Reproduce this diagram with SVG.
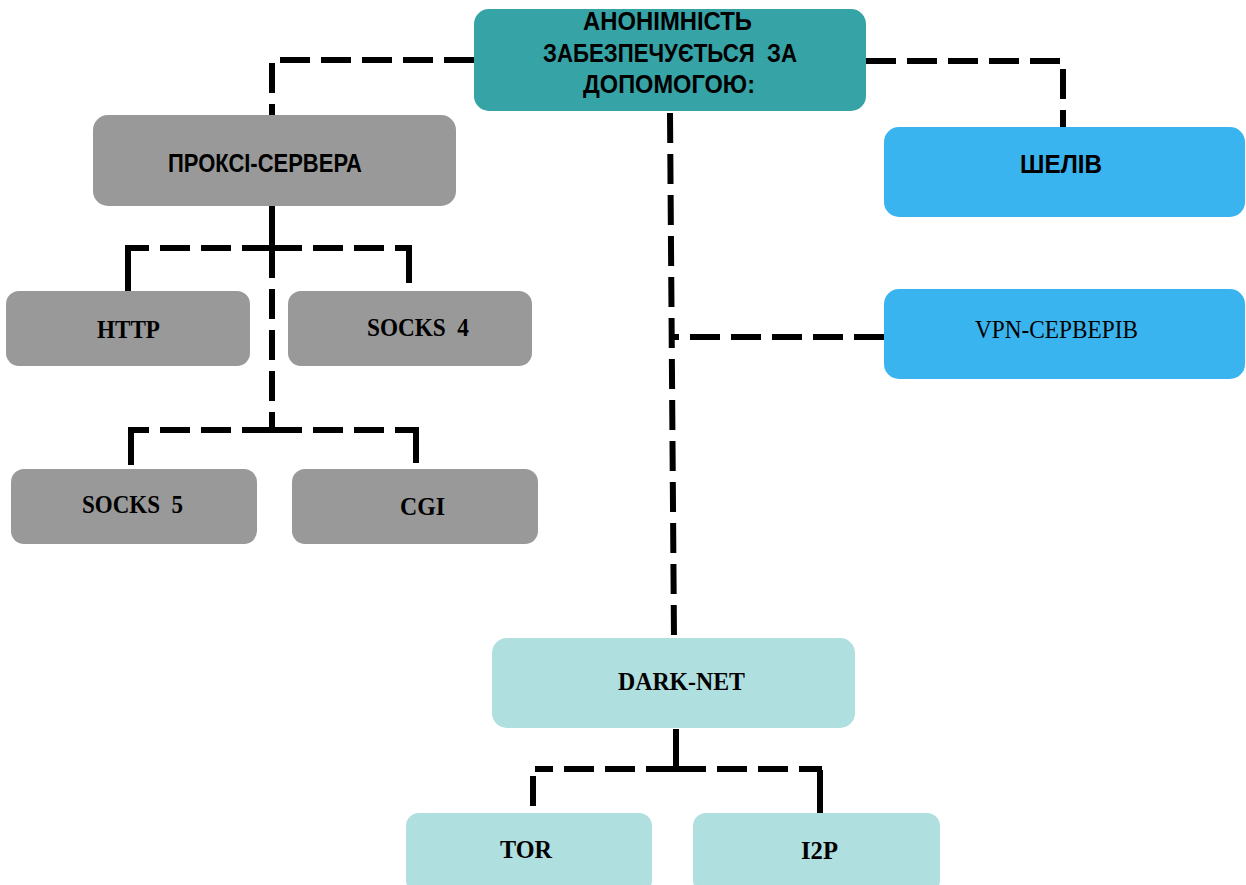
<svg xmlns="http://www.w3.org/2000/svg" width="1246" height="885" viewBox="0 0 1246 885">
<style>
.box{stroke:none}
.teal{fill:#36a3a7}
.gray{fill:#999999}
.blue{fill:#3ab4ef}
.light{fill:#b0dfdf}
.sans{font-family:"Liberation Sans",Arial,sans-serif;font-weight:bold;fill:#000;font-size:25px}
.serif{font-family:"Liberation Serif","Times New Roman",serif;font-weight:bold;fill:#000;font-size:26px}
.serifr{font-family:"Liberation Serif","Times New Roman",serif;fill:#000;font-size:26px}
.conn{fill:none;stroke:#000;stroke-width:6;stroke-dasharray:30 11}
.solid{fill:none;stroke:#000;stroke-width:6}
</style>
<rect width="1246" height="885" fill="#fff"/>
<g id="connectors">
<path class="conn" d="M474,60 H272 V115"/>
<path class="conn" d="M866,61 H1063 V127"/>
<path class="conn" d="M670,113 L674,638"/>
<path class="conn" d="M884,337 H674"/>
<path class="solid" d="M272,205 V248"/>
<path class="conn" d="M272,248 V430"/>
<path class="conn" d="M272,248 H125"/>
<path class="solid" d="M128,251 V291"/>
<path class="conn" d="M272,248 H409"/>
<path class="solid" d="M409,245 V283"/>
<path class="conn" d="M272,430 H131"/>
<path class="solid" d="M131,427 V465"/>
<path class="conn" d="M272,430 H416"/>
<path class="solid" d="M416,427 V463"/>
<path class="solid" d="M676,729 V769"/>
<path class="conn" d="M676,769 H535"/>
<path class="solid" d="M533,776 V806"/>
<path class="conn" d="M676,769 H822"/>
<path class="solid" d="M820,770 V813"/>
</g>
<g id="root">
<rect class="box teal" x="474" y="9" width="392" height="102" rx="15"/>
<text class="sans" x="583" y="30" textLength="169" lengthAdjust="spacingAndGlyphs">АНОНІМНІСТЬ</text>
<text class="sans" x="543" y="62" textLength="254" lengthAdjust="spacingAndGlyphs" xml:space="preserve">ЗАБЕЗПЕЧУЄТЬСЯ  ЗА</text>
<text class="sans" x="583" y="93" textLength="172" lengthAdjust="spacingAndGlyphs">ДОПОМОГОЮ:</text>
</g>
<g id="proxy">
<rect class="box gray" x="93" y="115" width="363" height="91" rx="15"/>
<text class="sans" x="168" y="172" textLength="194" lengthAdjust="spacingAndGlyphs">ПРОКСІ-СЕРВЕРА</text>
</g>
<g id="http">
<rect class="box gray" x="6" y="291" width="244" height="75" rx="13"/>
<text class="serif" x="97" y="338" textLength="63" lengthAdjust="spacingAndGlyphs">HTTP</text>
</g>
<g id="socks4">
<rect class="box gray" x="288" y="291" width="244" height="75" rx="13"/>
<text class="serif" x="367" y="336" textLength="102" lengthAdjust="spacingAndGlyphs" xml:space="preserve">SOCKS  4</text>
</g>
<g id="socks5">
<rect class="box gray" x="11" y="469" width="246" height="75" rx="13"/>
<text class="serif" x="82" y="513" textLength="101" lengthAdjust="spacingAndGlyphs" xml:space="preserve">SOCKS  5</text>
</g>
<g id="cgi">
<rect class="box gray" x="292" y="469" width="246" height="75" rx="13"/>
<text class="serif" x="400" y="515" textLength="45" lengthAdjust="spacingAndGlyphs">CGI</text>
</g>
<g id="shell">
<rect class="box blue" x="884" y="127" width="361" height="90" rx="15"/>
<text class="sans" x="1020" y="173" textLength="82" lengthAdjust="spacingAndGlyphs">ШЕЛІВ</text>
</g>
<g id="vpn">
<rect class="box blue" x="884" y="289" width="361" height="90" rx="15"/>
<text class="serifr" x="975" y="338" textLength="163" lengthAdjust="spacingAndGlyphs">VPN-СЕРВЕРІВ</text>
</g>
<g id="darknet">
<rect class="box light" x="492" y="638" width="363" height="90" rx="15"/>
<text class="serif" x="618" y="690" textLength="127" lengthAdjust="spacingAndGlyphs">DARK-NET</text>
</g>
<g id="tor">
<rect class="box light" x="406" y="813" width="246" height="80" rx="13"/>
<text class="serif" x="500" y="858" textLength="52" lengthAdjust="spacingAndGlyphs">TOR</text>
</g>
<g id="i2p">
<rect class="box light" x="693" y="813" width="247" height="80" rx="13"/>
<text class="serif" x="801" y="859" textLength="37" lengthAdjust="spacingAndGlyphs">I2P</text>
</g>
</svg>
